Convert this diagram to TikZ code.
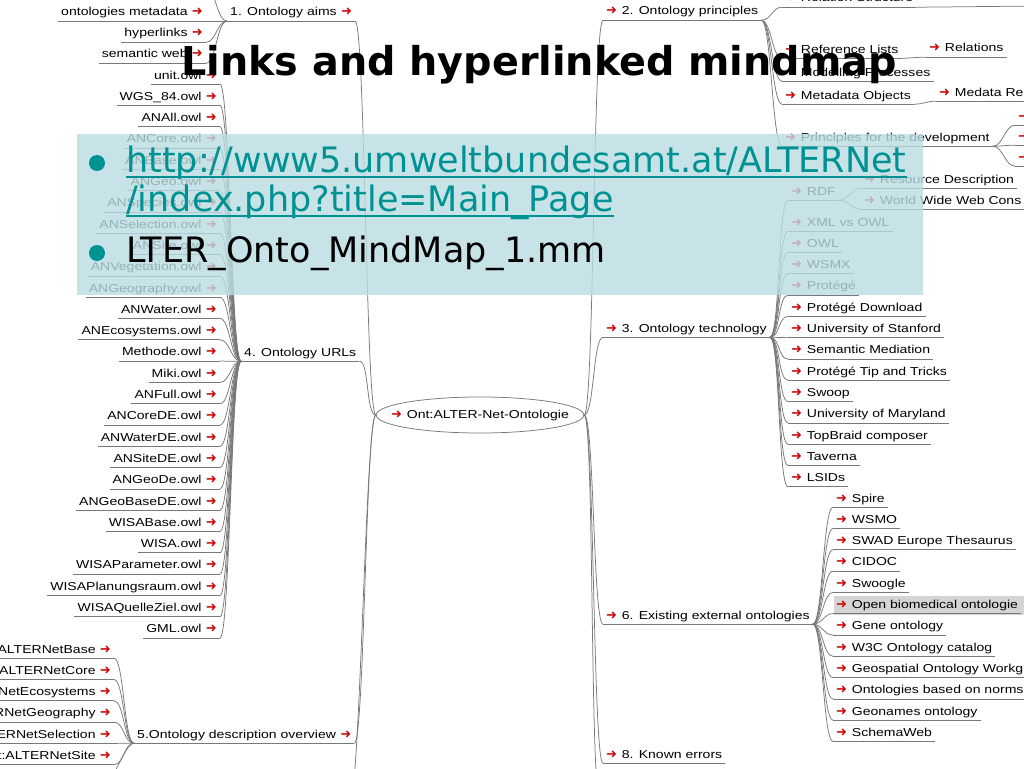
\documentclass[tikz,border=0pt]{standalone}
\usepackage{fontspec}
\usetikzlibrary{shapes.geometric}
\newfontfamily\mmfont[FakeStretch=1.22]{Liberation Sans}
\newfontfamily\dvfont{DejaVu Sans}
\definecolor{arrred}{RGB}{205,10,10}
\definecolor{edgec}{RGB}{120,120,120}
\definecolor{ovl}{RGB}{186,221,226}
\definecolor{tealc}{RGB}{0,146,146}
\definecolor{hlgray}{RGB}{212,212,212}
\newcommand{\mmarr}{{\dvfont\fontsize{13}{13}\selectfont\textcolor{arrred}{➜}}}
\newcommand{\lcon}[2]{\draw[conn] (#1) .. controls +(-10,0) and +(10,0) .. (#2);}
\newcommand{\rcon}[2]{\draw[conn] (#1) .. controls +(10,0) and +(-10,0) .. (#2);}
\begin{document}
\begin{tikzpicture}[x=1pt,y=-1pt,
  conn/.style={draw=edgec, line width=0.75pt},
  uline/.style={append after command={\pgfextra{\let\mmnode\tikzlastnode}
      (\mmnode.south west) edge[conn] (\mmnode.south east)}},
  mm/.style={font=\mmfont\fontsize{11.5}{13}\selectfont, inner xsep=3pt, inner ysep=2.5pt,
      text height=8.5pt, text depth=2.5pt, uline},
  ln/.style={mm, anchor=east},
  rn/.style={mm, anchor=west},
  big/.style={font=\dvfont\fontsize{35}{40}\selectfont, anchor=base west, inner sep=0}]
\useasboundingbox (0,0) rectangle (1024,768);
\clip (0,0) rectangle (1024,768);
\fill[white] (0,0) rectangle (1024,768);

% root
\node[ellipse, draw=edgec, line width=0.75pt, minimum height=36pt, inner xsep=-15.5pt, inner ysep=0pt,
      text height=8.5pt, text depth=2.5pt,
      font=\mmfont\fontsize{11.5}{13}\selectfont] (root) at (480,415) {\mmarr\hspace{5pt}Ont:ALTER-Net-Ontologie};

% ---------- left side ----------
\node[rn] (aims) at (227,13) {1. Ontology aims\hspace{4.3pt}\mmarr};
\node[rn] (urls) at (241,353) {4. Ontology URLs\hspace{4pt}};
\node[rn] (desc) at (134,735) {5.Ontology description overview\hspace{4.3pt}\mmarr};
\coordinate (lbot) at (350,800);
\lcon{root.west}{aims.south east}
\lcon{root.west}{urls.south east}
\lcon{root.west}{desc.south east}
\lcon{root.west}{lbot}

% children of aims
\node[ln] (om) at (206,13) {ontologies metadata\hspace{4.3pt}\mmarr};
\node[ln] (hl) at (206,34) {hyperlinks\hspace{4.3pt}\mmarr};
\node[ln] (sw) at (206,55) {semantic web\hspace{4.3pt}\mmarr};
\coordinate (aimstop) at (205,-14);
\lcon{aims.south west}{om.south east}
\lcon{aims.south west}{hl.south east}
\lcon{aims.south west}{sw.south east}
\lcon{aims.south west}{aimstop}

% children of urls
\foreach \lab [count=\i] in {unit.owl, WGS\_84.owl, ANAll.owl, ANCore.owl, ANBase.owl, ANGeo.owl,
   ANSpecies.owl, ANSelection.owl, ANSite.owl, ANVegetation.owl, ANGeography.owl, ANWater.owl,
   ANEcosystems.owl, Methode.owl, Miki.owl, ANFull.owl, ANCoreDE.owl, ANWaterDE.owl, ANSiteDE.owl,
   ANGeoDe.owl, ANGeoBaseDE.owl, WISABase.owl, WISA.owl, WISAParameter.owl, WISAPlanungsraum.owl,
   WISAQuelleZiel.owl, GML.owl}{
  \node[ln] (u\i) at (220,{76+21.3*(\i-1)}) {\lab\hspace{4.3pt}\mmarr};
  \lcon{urls.south west}{u\i.south east}
}

% children of desc
\foreach \lab [count=\i] in {ALTERNetBase, ALTERNetCore, NetEcosystems, RNetGeography,
   ERNetSelection, t:ALTERNetSite}{
  \node[ln] (d\i) at (114,{650+21.3*(\i-1)}) {\lab\hspace{4.3pt}\mmarr};
  \lcon{desc.south west}{d\i.south east}
}
\coordinate (dbelow) at (100,792);
\lcon{desc.south west}{dbelow}

% ---------- right side ----------
\node[rn] (princ) at (603,12) {\mmarr\hspace{4.8pt}2. Ontology principles};
\node[rn] (tech) at (603,329) {\mmarr\hspace{4.8pt}3. Ontology technology};
\node[rn] (exist) at (603,616) {\mmarr\hspace{4.8pt}6. Existing external ontologies};
\node[rn] (errors) at (603,755) {\mmarr\hspace{4.8pt}8. Known errors};
\coordinate (rbot) at (600,800);
\rcon{root.east}{princ.south west}
\rcon{root.east}{tech.south west}
\rcon{root.east}{exist.south west}
\rcon{root.east}{errors.south west}
\rcon{root.east}{rbot}

% children of principles
\node[rn] (rs) at (782,-1) {\mmarr\hspace{4.8pt}Relation Structure};
\node[rn] (rl) at (782,50) {\mmarr\hspace{4.8pt}Reference Lists};
\node[rn] (mp) at (782,73) {\hspace{15.7pt}Modelling Processes};
\node[rn] (mo) at (782,96) {\mmarr\hspace{4.8pt}Metadata Objects};
\node[rn] (pd) at (782,138) {\mmarr\hspace{4.8pt}Principles for the development};
\foreach \n in {rs,rl,mp,mo,pd}{\rcon{princ.south east}{\n.south west}}
\coordinate (rsc) at (1040,6);
\rcon{rs.south east}{rsc}
\node[rn] (rel) at (926,49) {\mmarr\hspace{4.8pt}Relations};
\rcon{rl.south east}{rel.south west}
\node[rn] (mr) at (936,93) {\mmarr\hspace{4.8pt}Medata Re};
\rcon{mo.south east}{mr.south west}
\node[rn] (pa) at (1015,117) {\mmarr};
\node[rn] (pb) at (1015,137) {\mmarr};
\node[rn] (pc) at (1015,158) {\mmarr};
\foreach \n in {pa,pb,pc}{\rcon{pd.south east}{\n.south west}}

% children of technology
\node[rn] (rdf) at (788,192) {\mmarr\hspace{4.8pt}RDF};
\rcon{tech.south east}{rdf.south west}
\foreach \lab [count=\i] in {XML vs OWL, OWL, WSMX, Protégé, Protégé Download, University of Stanford,
   Semantic Mediation, Protégé Tip and Tricks, Swoop, University of Maryland, TopBraid composer,
   Taverna, LSIDs}{
  \node[rn] (t\i) at (788,{223+21.3*(\i-1)}) {\mmarr\hspace{4.8pt}\lab};
  \rcon{tech.south east}{t\i.south west}
}
\node[rn] (resd) at (861,180) {\mmarr\hspace{4.8pt}Resource Description};
\node[rn] (www) at (861,201) {\mmarr\hspace{4.8pt}World Wide Web Cons};
\rcon{rdf.south east}{resd.south west}
\rcon{rdf.south east}{www.south west}

% children of existing external ontologies
\fill[hlgray] (834,596) rectangle (1030,615);
\foreach \lab [count=\i] in {Spire, WSMO, SWAD Europe Thesaurus, CIDOC, Swoogle,
   Open biomedical ontologie, Gene ontology, W3C Ontology catalog, Geospatial Ontology Workg,
   Ontologies based on norms, Geonames ontology, SchemaWeb}{
  \node[rn] (e\i) at (833,{499+21.3*(\i-1)}) {\mmarr\hspace{4.8pt}\lab};
  \rcon{exist.south east}{e\i.south west}
}

% ---------- overlay ----------
\fill[ovl, fill opacity=0.8] (77,134) rectangle (923,295);
\node[circle, fill=tealc, minimum size=16pt, inner sep=0] (b1) at (97,163) {};
\node[circle, fill=tealc, minimum size=16pt, inner sep=0] (b2) at (97,253) {};
\node[big, text=tealc] (url1) at (126,172) {http://www5.umweltbundesamt.at/ALTERNet};
\node[big, text=tealc] (url2) at (126,211) {/index.php?title=Main\_Page};
\draw[tealc, line width=2pt] ([yshift=-4.5pt]url1.base west) -- ([yshift=-4.5pt]url1.base east);
\draw[tealc, line width=2pt] ([yshift=-4.5pt]url2.base west) -- ([yshift=-4.5pt]url2.base east);
\node[big, text=black] (lter) at (126,262) {LTER\_Onto\_MindMap\_1.mm};

% ---------- title ----------
\node[font=\dvfont\bfseries\fontsize{39.7}{46}\selectfont, anchor=base west, inner sep=0] (title) at (181,75) {Links and hyperlinked mindmap};
\end{tikzpicture}
\end{document}
